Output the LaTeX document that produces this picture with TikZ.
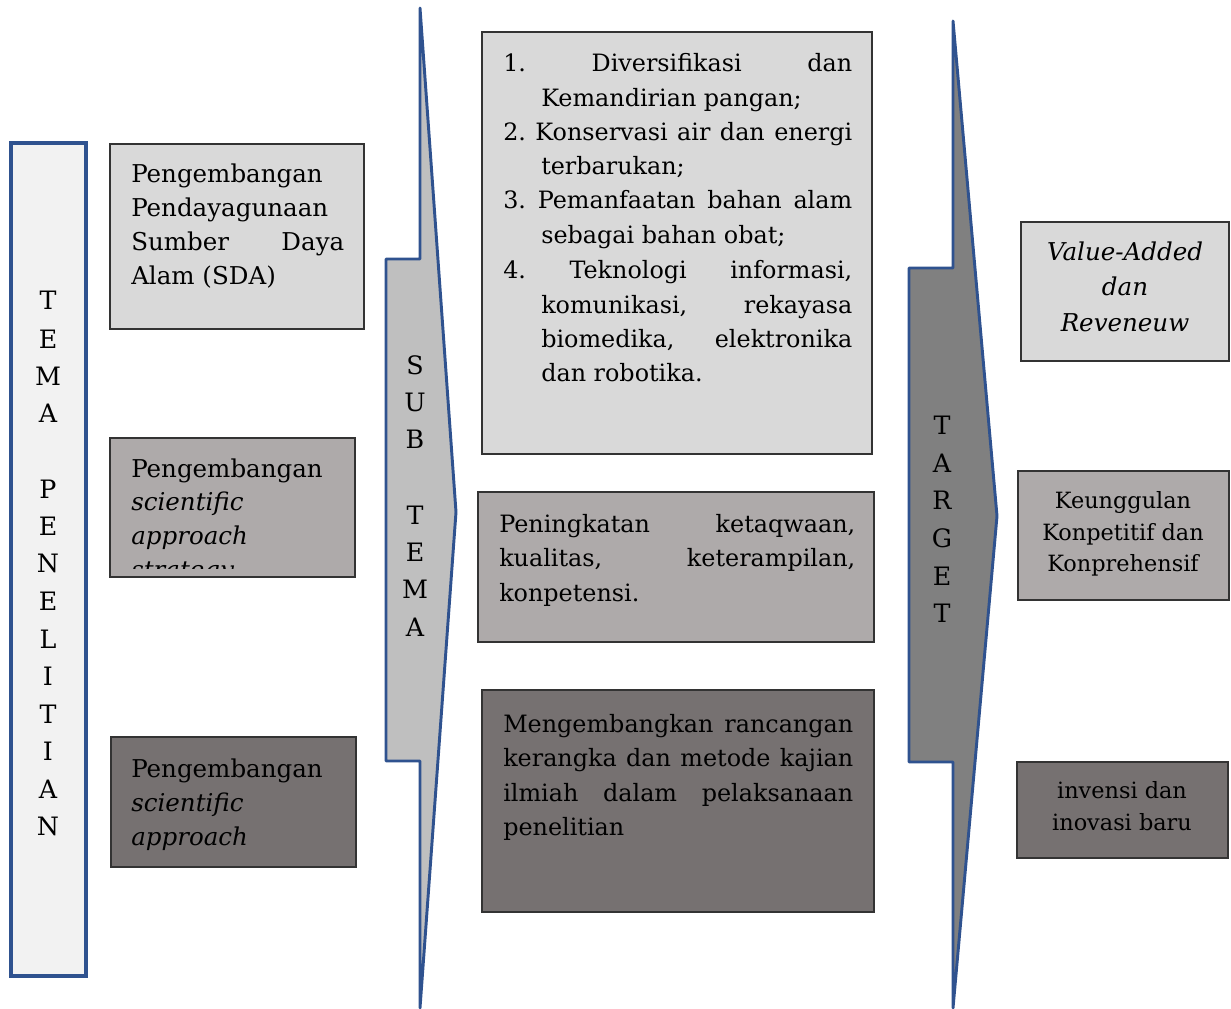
\documentclass[tikz,border=0pt]{standalone}
\usepackage{fontspec}
\setmainfont{DejaVu Serif}
\usetikzlibrary{fit}
\definecolor{bl}{HTML}{2F528F}
\definecolor{gA}{HTML}{D9D9D9}
\definecolor{gB}{HTML}{AEAAAA}
\definecolor{gC}{HTML}{767171}
\definecolor{gS}{HTML}{BFBFBF}
\definecolor{gT}{HTML}{808080}
\definecolor{gW}{HTML}{F2F2F2}
\newcounter{lc}
\newcommand\txl[4][]{\stepcounter{lc}\node[txt,#1] (t\arabic{lc}) at (#2,#3) {#4};}
\newcommand\jline[2]{\makebox[\dimexpr #1pt*3/4\relax][s]{#2}}
\begin{document}
\frenchspacing
\begin{tikzpicture}[x=0.75pt,y=-0.75pt,
  txt/.style={inner sep=0pt,anchor=base west,font=\fontsize{18.4}{22}\selectfont\frenchspacing},
  mid/.style={font=\fontsize{17.9}{22}\selectfont\frenchspacing},
  ctxt/.style={anchor=base},
  sml/.style={ctxt,font=\fontsize{16.8}{20}\selectfont},
  letr/.style={inner sep=0pt,anchor=base,font=\fontsize{19}{22}\selectfont},
  bx/.style={draw=black!80,line width=0.9pt,inner sep=0pt},
  arr/.style={draw=bl,line width=2.2pt,line join=round}]
\useasboundingbox (0,0) rectangle (1231,1009);
% left TEMA box
\node[draw=bl,line width=2.3pt,fill=gW,inner sep=0pt,fit={(11,143)(86,976)}] (tema) {};
\foreach \l/\y [count=\i] in {T/310,E/348,M/385,A/422,P/498,E/535,N/572,E/610,L/648,I/685,T/723,I/760,A/798,N/835}
  \node[letr] (tm\i) at (48,\y) {\l};
% arrows
\draw[arr,fill=gS] (420,8) -- (456,512) -- (420,1008) -- (420,761) -- (386,761) -- (386,259) -- (420,259) -- cycle;
\foreach \l/\y [count=\i] in {S/374,U/411,B/448,T/524,E/561,M/598,A/636}
  \node[letr] (sb\i) at (415,\y) {\l};
\draw[arr,fill=gT] (953,21) -- (997,516) -- (953,1008) -- (953,762) -- (909,762) -- (909,268) -- (953,268) -- cycle;
\foreach \l/\y [count=\i] in {T/434,A/472,R/509,G/547,E/585,T/622}
  \node[letr] (tg\i) at (942,\y) {\l};
% column 1
\node[bx,fill=gA,fit={(110,144)(364,329)}] (b1) {};
\txl{131}{183}{Pengembangan}
\txl{131}{217}{Pendayagunaan}
\txl{131}{251}{\jline{213}{Sumber Daya}}
\txl{131}{285}{Alam (SDA)}
\node[bx,fill=gB,fit={(110,438)(355,577)}] (b2) {};
\begin{scope}
\clip (110,438) rectangle (355,568);
\txl{131}{477}{Pengembangan}
\txl{131}{510}{\itshape scientific}
\txl{131}{544}{\itshape approach}
\txl{131}{578}{\itshape strategy}
\end{scope}
\node[bx,fill=gC,fit={(111,737)(356,867)}] (b3) {};
\txl{131}{777}{Pengembangan}
\txl{131}{811}{\itshape scientific}
\txl{131}{845}{\itshape approach}
% column 2
\node[bx,fill=gA,fit={(482,32)(872,454)}] (b4) {};
\txl[mid]{503}{72}{\jline{349}{1. Diversifikasi dan}}
\txl[mid]{541}{107}{Kemandirian pangan;}
\txl[mid]{503}{141}{\jline{349}{2. Konservasi air dan energi}}
\txl[mid]{541}{175}{terbarukan;}
\txl[mid]{503}{209}{\jline{349}{3. Pemanfaatan bahan alam}}
\txl[mid]{541}{244}{sebagai bahan obat;}
\txl[mid]{503}{278}{\jline{349}{4. Teknologi informasi,}}
\txl[mid]{541}{313}{\jline{311}{komunikasi, rekayasa}}
\txl[mid]{541}{347}{\jline{311}{biomedika, elektronika}}
\txl[mid]{541}{381}{dan robotika.}
\node[bx,fill=gB,fit={(478,492)(874,642)}] (b5) {};
\txl[mid]{499}{532}{\jline{356}{Peningkatan ketaqwaan,}}
\txl[mid]{499}{566}{\jline{356}{kualitas, keterampilan,}}
\txl[mid]{499}{601}{konpetensi.}
\node[bx,fill=gC,fit={(482,690)(874,912)}] (b6) {};
\txl[mid]{503}{732}{\jline{350}{Mengembangkan rancangan}}
\txl[mid]{503}{766}{\jline{350}{kerangka dan metode kajian}}
\txl[mid]{503}{801}{\jline{350}{ilmiah dalam pelaksanaan}}
\txl[mid]{503}{835}{penelitian}
% column 3
\node[bx,fill=gA,fit={(1021,222)(1229,361)}] (b7) {};
\txl[ctxt]{1125}{261}{\itshape Value-Added}
\txl[ctxt]{1125}{296}{\itshape dan}
\txl[ctxt]{1125}{331}{\itshape Reveneuw}
\node[bx,fill=gB,fit={(1018,471)(1229,600)}] (b8) {};
\txl[sml]{1123}{508}{Keunggulan}
\txl[sml]{1123}{540}{Konpetitif dan}
\txl[sml]{1123}{571}{Konprehensif}
\node[bx,fill=gC,fit={(1017,762)(1228,858)}] (b9) {};
\txl[sml]{1122}{798}{invensi dan}
\txl[sml]{1122}{830}{inovasi baru}
\end{tikzpicture}
\end{document}
